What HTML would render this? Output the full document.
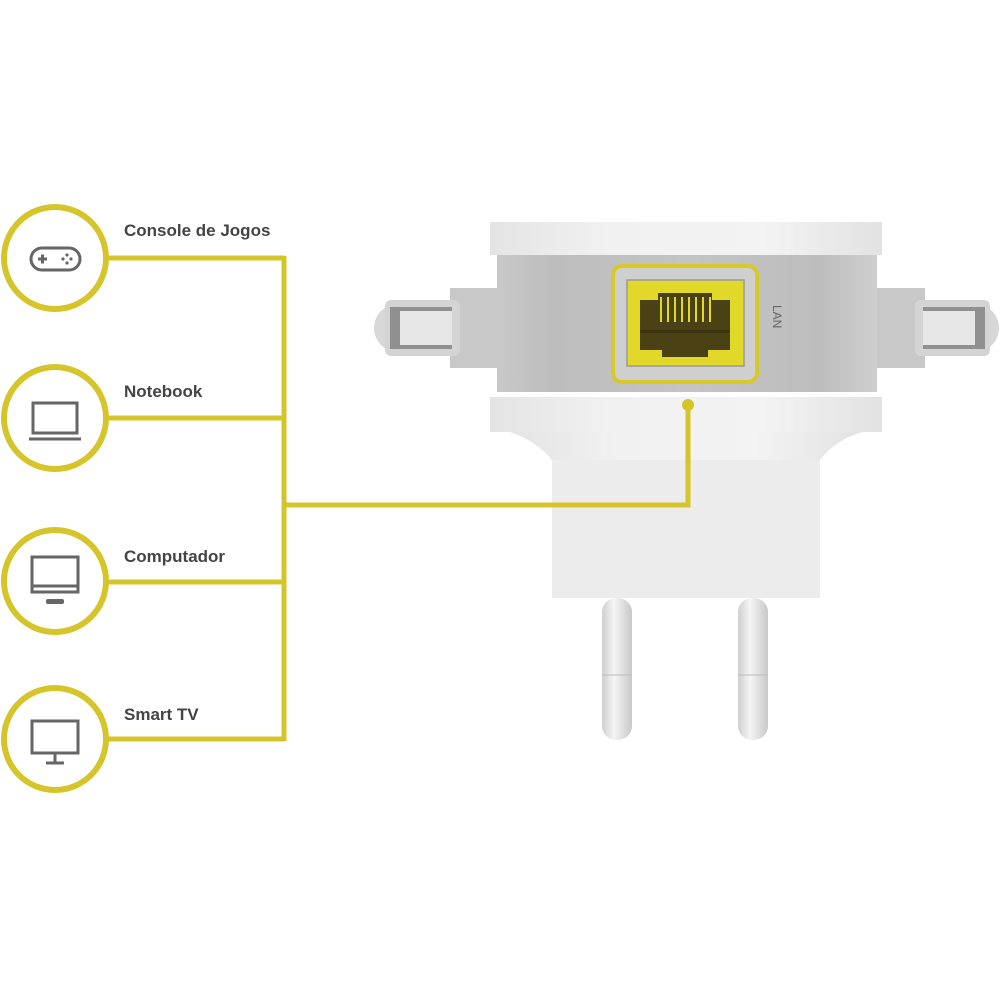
<!DOCTYPE html>
<html><head><meta charset="utf-8"><style>
html,body{margin:0;padding:0;background:#fff;}
svg{display:block}
text{font-family:"Liberation Sans",sans-serif;}
</style></head><body>
<svg width="1000" height="1000" viewBox="0 0 1000 1000" xmlns="http://www.w3.org/2000/svg">
<defs>
<linearGradient id="gb" x1="0" y1="0" x2="1" y2="0">
<stop offset="0" stop-color="#c9c9c9"/><stop offset="0.15" stop-color="#bdbdbd"/><stop offset="0.5" stop-color="#c4c4c4"/><stop offset="0.85" stop-color="#bdbdbd"/><stop offset="1" stop-color="#cfcfcf"/>
</linearGradient>
<linearGradient id="wb" x1="0" y1="0" x2="1" y2="0">
<stop offset="0" stop-color="#e4e4e4"/><stop offset="0.3" stop-color="#f1f1f1"/><stop offset="0.7" stop-color="#f3f3f3"/><stop offset="1" stop-color="#e2e2e2"/>
</linearGradient>
<linearGradient id="pr" x1="0" y1="0" x2="1" y2="0">
<stop offset="0" stop-color="#cfcfcf"/><stop offset="0.4" stop-color="#f5f5f5"/><stop offset="1" stop-color="#c8c8c8"/>
</linearGradient>
</defs>
<rect width="1000" height="1000" fill="#fff"/>

<!-- antennas -->
<g>
<rect x="450" y="288" width="50" height="80" fill="#c8c8c8"/>
<circle cx="398" cy="328" r="24" fill="#d8d8d8"/>
<rect x="385" y="300" width="75" height="56" rx="6" fill="#d4d4d4"/>
<rect x="390" y="307" width="62" height="42" fill="#909090"/>
<rect x="400" y="311" width="52" height="34" fill="#e6e6e6"/>
<rect x="875" y="288" width="50" height="80" fill="#c8c8c8"/>
<circle cx="975" cy="328" r="24" fill="#d8d8d8"/>
<rect x="915" y="300" width="75" height="56" rx="6" fill="#d4d4d4"/>
<rect x="923" y="307" width="62" height="42" fill="#909090"/>
<rect x="923" y="311" width="52" height="34" fill="#e6e6e6"/>
</g>

<!-- body -->
<rect x="497" y="250" width="380" height="142" fill="url(#gb)"/>
<rect x="490" y="222" width="392" height="33" fill="url(#wb)"/>
<rect x="490" y="397" width="392" height="35" fill="url(#wb)"/>
<path d="M510 432 H862 Q835 440 820 460 V598 H552 V460 Q535 440 510 432 Z" fill="url(#wb)"/>
<rect x="552" y="460" width="268" height="138" fill="#ececec"/>

<!-- prongs -->
<rect x="602" y="598" width="30" height="142" rx="14" fill="url(#pr)"/>
<rect x="738" y="598" width="30" height="142" rx="14" fill="url(#pr)"/>
<path d="M602 675 h30 M738 675 h30" stroke="#bbb" stroke-width="1"/>

<!-- port -->
<rect x="613" y="266" width="144" height="116" rx="9" fill="#cfcfcf" stroke="#d8c829" stroke-width="4"/>
<rect x="627" y="280" width="117" height="86" fill="#e2d82a" stroke="#9a9a9a" stroke-width="1.5"/>
<path d="M640 300 H658 V293 H712 V300 H730 V350 H708 V357 H662 V350 H640 Z" fill="#4a4215"/>
<g stroke="#e2d82a" stroke-width="2">
<path d="M661 297 v25 M668 297 v25 M675 297 v25 M682 297 v25 M689 297 v25 M696 297 v25 M703 297 v25 M710 297 v25"/>
</g>
<rect x="640" y="330" width="90" height="3" fill="#3a340f"/>
<text x="0" y="0" font-size="12" fill="#666" transform="translate(773,305) rotate(90)">LAN</text>

<!-- connectors -->
<g stroke="#d6c52a" stroke-width="5" fill="none">
<path d="M108 258 H284 M108 418 H284 M108 582 H284 M108 739 H284 M284 256 V741 M284 505 H688 V405"/>
<circle cx="55" cy="258" r="51" stroke-width="6" fill="#fff"/>
<circle cx="55" cy="418" r="51" stroke-width="6" fill="#fff"/>
<circle cx="55" cy="581" r="51" stroke-width="6" fill="#fff"/>
<circle cx="55" cy="739" r="51" stroke-width="6" fill="#fff"/>
</g>
<circle cx="688" cy="405" r="6" fill="#d6c52a"/>

<!-- icons -->
<g stroke="#666" stroke-width="3" fill="none">
<rect x="31" y="248" width="49" height="22" rx="11"/>
<path d="M38 259 h9 M42.5 254.5 v9"/>
<rect x="33" y="403" width="44" height="30"/>
<path d="M29 439 h52"/>
<rect x="32" y="557" width="46" height="35" fill="none"/>
<path d="M32 586 h46"/>
<rect x="32" y="721" width="46" height="32"/>
<path d="M55 753 v9 M46 763 h18"/>
</g>
<g fill="#666">
<circle cx="67" cy="255" r="1.6"/><circle cx="67" cy="263" r="1.6"/><circle cx="63" cy="259" r="1.6"/><circle cx="71" cy="259" r="1.6"/>
<rect x="46" y="599" width="18" height="5" rx="2"/>
</g>

<!-- labels -->
<g font-size="17" font-weight="bold" fill="#444">
<text x="124" y="236">Console de Jogos</text>
<text x="124" y="397">Notebook</text>
<text x="124" y="562">Computador</text>
<text x="124" y="720">Smart TV</text>
</g>
</svg>
</body></html>
